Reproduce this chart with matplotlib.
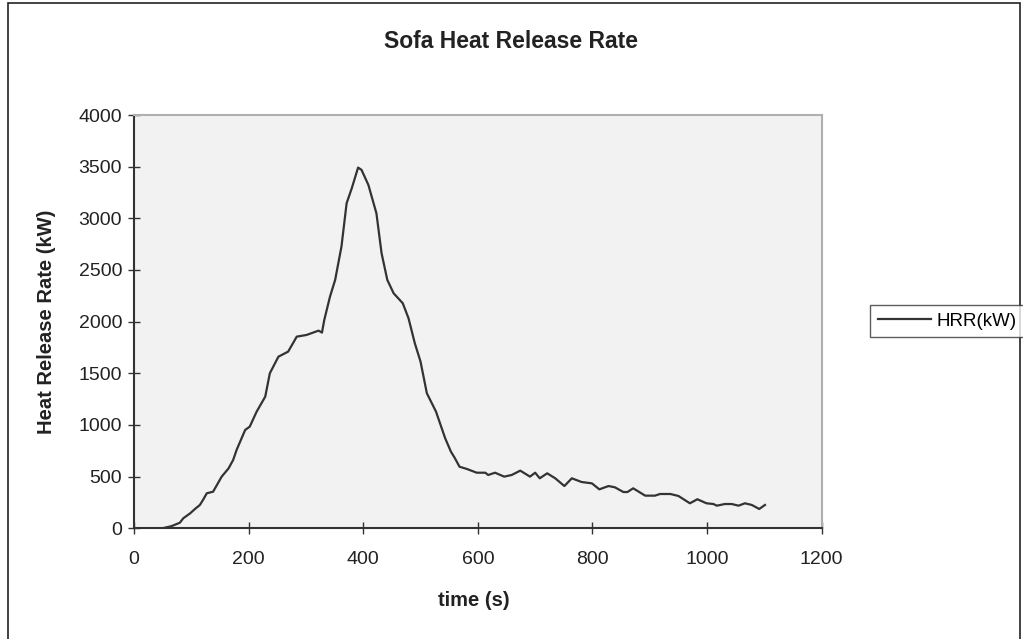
import matplotlib
matplotlib.use("Agg")
import matplotlib.pyplot as plt
from matplotlib.patches import Rectangle

plt.rcParams['font.family'] = ['Liberation Sans', 'DejaVu Sans']

# values
time_s = [0, 20, 40, 51, 65, 80, 86, 98, 107, 115,
          121, 127, 138, 153, 165, 173, 179, 194, 202, 214,
          229, 237, 252, 269, 284, 301, 322, 328, 332, 342,
          351, 362, 371, 380, 391, 397, 409, 423, 432, 442,
          453, 469, 479, 490, 500, 511, 527, 543, 553, 560,
          568, 581, 598, 613, 618, 630, 646, 659, 674, 691,
          700, 708, 721, 735, 751, 764, 781, 799, 812, 828,
          839, 854, 861, 871, 892, 909, 918, 936, 950, 970,
          983, 999, 1011, 1017, 1031, 1043, 1055, 1066, 1078, 1091,
          1101]
hrr_kw = [0, 0, 0, 2, 20, 54, 97, 145, 190, 226,
          280, 339, 354, 500, 580, 661, 758, 952, 984, 1129,
          1274, 1500, 1661, 1710, 1855, 1871, 1913, 1894, 2016, 2242,
          2404, 2726, 3146, 3291, 3491, 3469, 3323, 3049, 2662, 2404,
          2275, 2178, 2033, 1791, 1613, 1307, 1129, 871, 742, 678,
          596, 574, 538, 538, 516, 538, 500, 516, 558, 500,
          538, 484, 532, 484, 409, 484, 448, 435, 377, 409,
          397, 351, 351, 387, 316, 316, 332, 332, 313, 242,
          281, 242, 235, 219, 235, 235, 219, 242, 226, 187,
          226]
x_ticks = [0, 200, 400, 600, 800, 1000, 1200]
y_ticks = [0, 500, 1000, 1500, 2000, 2500, 3000, 3500, 4000]

W, H = 1023, 639
fig = plt.figure(figsize=(W / 100, H / 100), dpi=100)
fig.patch.set_facecolor('white')

# chart area border
fig.patches.append(Rectangle((8 / W, -0.02), 1012 / W, 1.02 - 3 / H,
                             transform=fig.transFigure, fill=False,
                             edgecolor='#222222', linewidth=1.2))

left, right, top, bottom = 134 / W, 821.7 / W, 115 / H, 528.3 / H
ax = fig.add_axes([left, 1 - bottom, right - left, bottom - top])
ax.set_facecolor('#f2f2f2')

ax.plot(time_s, hrr_kw, color='#333333', linewidth=1.6, label='HRR(kW)')

ax.set_xlim(0, 1200)
ax.set_ylim(0, 4000)
ax.set_xticks(x_ticks)
ax.set_yticks(y_ticks)
ax.tick_params(direction='inout', length=9, width=1, colors='#333333',
               labelsize=14, labelcolor='#222222', pad=4)
ax.tick_params(axis='x', pad=12)
for s in ['top', 'right']:
    ax.spines[s].set_color('#b0b0b0')
    ax.spines[s].set_linewidth(1.5)
for s in ['bottom', 'left']:
    ax.spines[s].set_color('#333333')
    ax.spines[s].set_linewidth(1.5)

fig.text(511 / W, 1 - 42 / H, 'Sofa Heat Release Rate', ha='center', va='center',
         fontsize=16.5, fontweight='bold', color='#222222')
fig.text(474 / W, 1 - 601 / H, 'time (s)', ha='center', va='center',
         fontsize=14.5, fontweight='bold', color='#222222')
fig.text(47 / W, 1 - 322 / H, 'Heat Release Rate (kW)', ha='center', va='center',
         rotation=90, fontsize=14.5, fontweight='bold', color='#222222')

leg = fig.legend(loc='center left', bbox_to_anchor=(870 / W, 1 - 321 / H),
                 fontsize=13.5, frameon=True, fancybox=False, handlelength=2.83,
                 handletextpad=0.32, borderpad=0.4, borderaxespad=0)
leg.get_frame().set_edgecolor('#333333')
leg.get_frame().set_linewidth(1.0)

fig.savefig('out.png', dpi=100)
